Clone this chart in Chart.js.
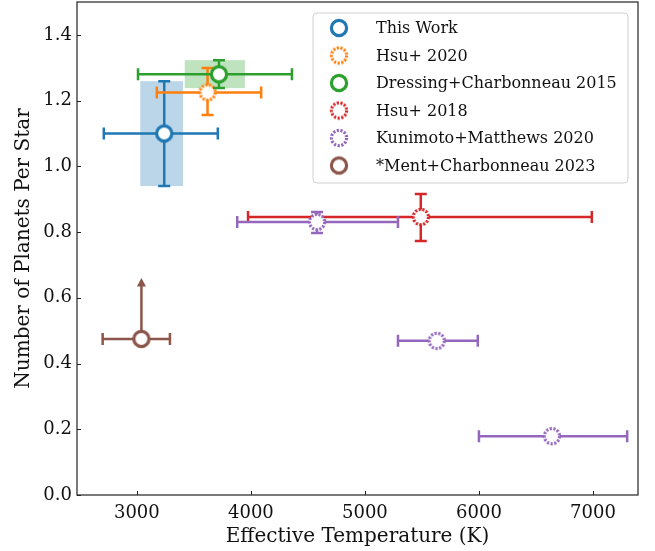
<!DOCTYPE html>
<html>
<head>
<meta charset="utf-8">
<script src="https://cdn.jsdelivr.net/npm/chart.js@4.4.1/dist/chart.umd.min.js"></script>
<style>
  html, body { margin: 0; padding: 0; background: #fff; }
  #wrap { width: 655px; height: 551px; }
</style>
</head>
<body>
<div id="wrap"><canvas id="occChart" width="655" height="551"></canvas></div>
<script>
// survey names, colours, marker style
const seriesNames = ['This Work', 'Hsu+ 2020', 'Dressing+Charbonneau 2015', 'Hsu+ 2018', 'Kunimoto+Matthews 2020', '*Ment+Charbonneau 2023'];
const seriesColors = ['#1f77b4', '#ff7f0e', '#2ca02c', '#d62728', '#9467bd', '#8c564b'];
const dashedMarker = [false, true, false, true, true, false];

// effective temperature (K): centre and bin edges
const teff = [[3240], [3620], [3720], [5490], [4580, 5630, 6640], [3040]];
const teffLow = [[2710], [3175], [3010], [3975], [3880, 5290, 6000], [2700]];
const teffHigh = [[3710], [4090], [4360], [6990], [5290, 5990, 7300], [3290]];

// planets per star: value and error limits (null = no y error)
const occurrence = [[1.10], [1.225], [1.28], [0.846], [0.831, 0.469, 0.179], [0.475]];
const occLow = [[0.94], [1.156], [1.238], [0.773], [0.797, null, null], [null]];
const occHigh = [[1.259], [1.299], [1.323], [0.916], [0.861, null, null], [null]];

// Ment+Charbonneau is a lower limit, arrow up to this value
const lowerLimitTo = [null, null, null, null, null, 0.66];

// shaded ranges for This Work and Dressing+Charbonneau
const shadeSeries = [0, 2];
const shadeTeff = [[3030, 3405], [3420, 3948]];
const shadeOcc = [[0.94, 1.259], [1.238, 1.323]];

const xTicks = [3000, 4000, 5000, 6000, 7000];
const yTicks = [0, 0.2, 0.4, 0.6, 0.8, 1.0, 1.2, 1.4];

const FONT = "'DejaVu Serif', 'Liberation Serif', serif";

// hollow circle markers, solid or dashed ring
function makeMarker(color, dashed) {
  const c = document.createElement('canvas');
  c.width = 22; c.height = 22;
  const g = c.getContext('2d');
  g.beginPath();
  g.arc(11, 11, 7.6, 0, Math.PI * 2);
  g.fillStyle = '#fff';
  g.fill();
  g.lineWidth = 3.2;
  g.strokeStyle = color;
  if (dashed) g.setLineDash([2.2, 1.5]);
  g.stroke();
  return c;
}
const markers = seriesColors.map((c, i) => makeMarker(c, dashedMarker[i]));

const datasets = seriesNames.map((name, i) => ({
  label: name,
  data: teff[i].map((t, j) => ({ x: t, y: occurrence[i][j] })),
  pointStyle: markers[i],
  pointRadius: 9,
  pointHoverRadius: 9,
  borderColor: seriesColors[i],
  backgroundColor: '#fff',
  showLine: false,
  order: seriesNames.length - i
}));

const errorBars = {
  id: 'errorBars',
  beforeDatasetsDraw(chart) {
    const { ctx, scales: { x, y } } = chart;
    ctx.save();
    shadeSeries.forEach((s, k) => {
      ctx.fillStyle = seriesColors[s];
      ctx.globalAlpha = 0.3;
      const x0 = x.getPixelForValue(shadeTeff[k][0]);
      const x1 = x.getPixelForValue(shadeTeff[k][1]);
      const y0 = y.getPixelForValue(shadeOcc[k][1]);
      const y1 = y.getPixelForValue(shadeOcc[k][0]);
      ctx.fillRect(x0, y0, x1 - x0, y1 - y0);
    });
    ctx.restore();
  },
  beforeDatasetDraw(chart, args) {
    const i = args.index;
    const { ctx, scales: { x, y } } = chart;
    const cap = 6;
    ctx.save();
    ctx.strokeStyle = seriesColors[i];
    ctx.fillStyle = seriesColors[i];
    ctx.lineWidth = 2.5;
    ctx.lineCap = 'butt';
    teff[i].forEach((t, j) => {
      const px = x.getPixelForValue(t);
      const py = y.getPixelForValue(occurrence[i][j]);
      const xl = x.getPixelForValue(teffLow[i][j]);
      const xh = x.getPixelForValue(teffHigh[i][j]);
      ctx.beginPath();
      ctx.moveTo(xl, py); ctx.lineTo(xh, py);
      ctx.moveTo(xl, py - cap); ctx.lineTo(xl, py + cap);
      ctx.moveTo(xh, py - cap); ctx.lineTo(xh, py + cap);
      if (occLow[i][j] !== null) {
        const yl = y.getPixelForValue(occLow[i][j]);
        const yh = y.getPixelForValue(occHigh[i][j]);
        ctx.moveTo(px, yl); ctx.lineTo(px, yh);
        ctx.moveTo(px - cap, yl); ctx.lineTo(px + cap, yl);
        ctx.moveTo(px - cap, yh); ctx.lineTo(px + cap, yh);
      }
      ctx.stroke();
      if (lowerLimitTo[i] !== null) {
        const tip = y.getPixelForValue(lowerLimitTo[i]);
        ctx.beginPath();
        ctx.moveTo(px, py); ctx.lineTo(px, tip + 7);
        ctx.stroke();
        ctx.beginPath();
        ctx.moveTo(px, tip);
        ctx.lineTo(px - 4.5, tip + 8.5);
        ctx.lineTo(px + 4.5, tip + 8.5);
        ctx.closePath();
        ctx.fill();
      }
    });
    ctx.restore();
  }
};

// frame, inward ticks and the legend box
const frameAndLegend = {
  id: 'frameAndLegend',
  afterDatasetsDraw(chart) {
    const { ctx, chartArea: a, scales: { x, y } } = chart;
    ctx.save();
    ctx.strokeStyle = '#222';
    ctx.lineWidth = 1.2;
    ctx.strokeRect(a.left, a.top, a.right - a.left, a.bottom - a.top);
    ctx.lineWidth = 1;
    ctx.beginPath();
    xTicks.forEach(v => {
      const px = Math.round(x.getPixelForValue(v)) + 0.5;
      ctx.moveTo(px, a.bottom); ctx.lineTo(px, a.bottom - 4);
    });
    yTicks.forEach(v => {
      const py = Math.round(y.getPixelForValue(v)) + 0.5;
      ctx.moveTo(a.left, py); ctx.lineTo(a.left + 4, py);
    });
    ctx.stroke();

    // legend
    const lx = 313, ly = 13, lw = 315, lh = 170;
    ctx.globalAlpha = 0.8;
    ctx.fillStyle = '#fff';
    ctx.beginPath();
    ctx.roundRect(lx, ly, lw, lh, 4);
    ctx.fill();
    ctx.globalAlpha = 1;
    ctx.strokeStyle = '#d0d0d0';
    ctx.lineWidth = 1;
    ctx.stroke();
    ctx.font = '16px ' + FONT;
    ctx.fillStyle = '#111';
    ctx.textBaseline = 'middle';
    seriesNames.forEach((name, i) => {
      const ey = 28 + i * 27.5;
      ctx.drawImage(markers[i], 339 - 11, ey - 11);
      ctx.fillText(name, 376, ey + 1);
    });
    ctx.restore();
  }
};

new Chart(document.getElementById('occChart'), {
  type: 'scatter',
  data: { datasets },
  options: {
    responsive: false,
    animation: false,
    layout: { autoPadding: false, padding: { top: 2, right: 17, left: 0, bottom: 0 } },
    plugins: { legend: { display: false }, tooltip: { enabled: false } },
    scales: {
      x: {
        type: 'linear',
        min: 2475,
        max: 7395,
        grid: { display: false, drawTicks: false },
        border: { display: false },
        afterBuildTicks: s => { s.ticks = xTicks.map(v => ({ value: v })); },
        afterFit: s => { s.height = 56; s.paddingLeft = 0; s.paddingRight = 0; },
        ticks: {
          color: '#111',
          font: { family: FONT, size: 18 },
          padding: 8,
          maxRotation: 0,
          callback: v => String(v)
        },
        title: {
          display: true,
          text: 'Effective Temperature (K)',
          color: '#111',
          font: { family: FONT, size: 20 },
          padding: { top: 0, bottom: 2 }
        }
      },
      y: {
        type: 'linear',
        min: 0,
        max: 1.5,
        grid: { display: false, drawTicks: false },
        border: { display: false },
        afterBuildTicks: s => { s.ticks = yTicks.map(v => ({ value: v })); },
        afterFit: s => { s.width = 77; s.paddingTop = 0; s.paddingBottom = 0; },
        ticks: {
          color: '#111',
          font: { family: FONT, size: 18 },
          padding: 5,
          callback: v => v.toFixed(1)
        },
        title: {
          display: true,
          text: 'Number of Planets Per Star',
          color: '#111',
          font: { family: FONT, size: 20 },
          padding: { top: 12, bottom: 0 }
        }
      }
    }
  },
  plugins: [errorBars, frameAndLegend]
});
</script>
</body>
</html>
